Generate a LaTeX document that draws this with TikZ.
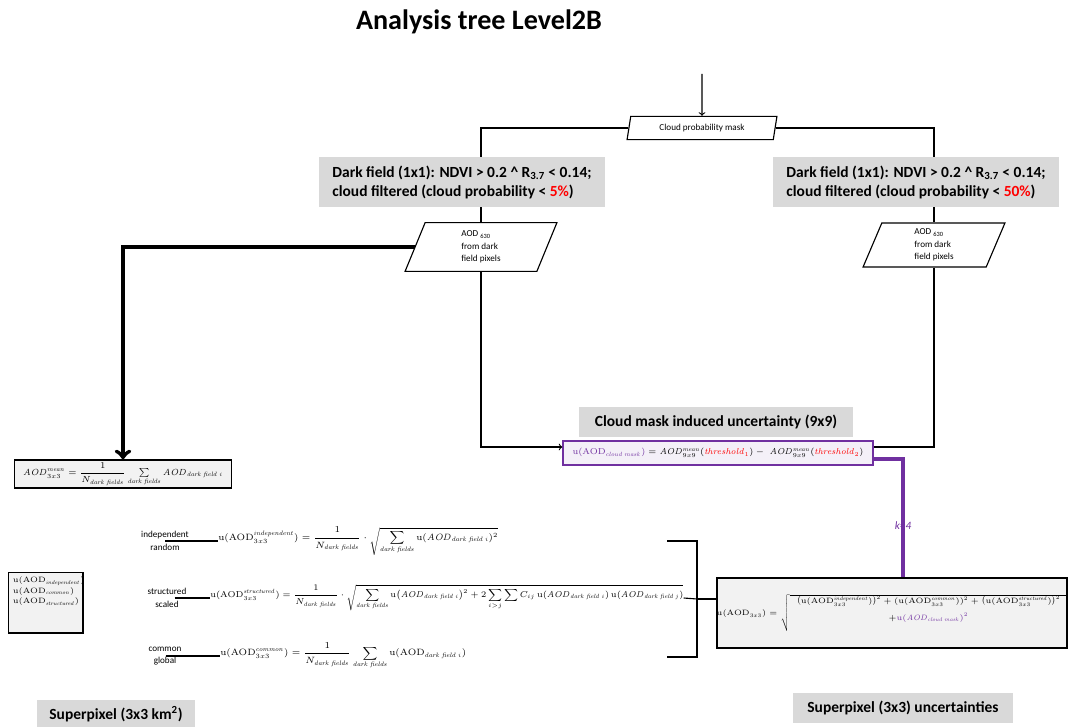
\documentclass[tikz,border=0pt]{standalone}
\usepackage{fix-cm}
\usepackage{amsmath}
\usepackage[no-math]{fontspec}
\setmainfont{Carlito}
\usetikzlibrary{shapes.geometric}

\definecolor{dfgray}{HTML}{D9D9D9}
\definecolor{boxgray}{HTML}{F2F2F2}
\definecolor{umask}{HTML}{7030A0}
\definecolor{umaskfill}{HTML}{F4F0F8}
\definecolor{thresh}{HTML}{FF0000}

\newcommand{\dfs}{\mathit{dark\ fields}}
\newcommand{\dfi}[1]{\mathit{dark\ field\ #1}}
\newcommand{\uu}{\mathrm{u}}
\newcommand{\aod}{\mathrm{AOD}}
\newcommand{\aodi}{\mathit{AOD}}

\tikzset{
  head/.style={fill=dfgray, align=left, inner sep=0pt,
    font=\fontsize{11}{13.5}\selectfont\bfseries},
  io/.style={draw, line width=0.8pt, trapezium, trapezium left angle=78,
    trapezium right angle=102, trapezium stretches=true, align=left,
    inner sep=1pt, font=\fontsize{6.5}{9}\selectfont},
  eqbox/.style={draw, fill=boxgray, line width=1pt, inner sep=0pt},
  eq/.style={inner sep=0pt, font=\fontsize{6.5}{8}\selectfont},
  tag/.style={inner sep=0pt, align=center, font=\fontsize{6.5}{8}\selectfont},
  line/.style={line width=0.8pt}
}

\begin{document}
\begin{tikzpicture}[x=0.025cm, y=-0.025cm]
\useasboundingbox (0,0) rectangle (1069,727);

\node (title) at (479,22) {\fontsize{20}{24}\selectfont\bfseries Analysis tree Level2B};

\coordinate (top) at (702,74);
\node[io, minimum width=3.75cm, minimum height=0.58cm] (cpm) at (702,128) {Cloud probability mask};

\node[head, minimum width=7.13cm, minimum height=1.25cm] (dfl) at (462,182)
  {Dark field (1x1): NDVI > 0.2 \textasciicircum{} R\textsubscript{3.7} < 0.14;\\
   cloud filtered (cloud probability < \textcolor{thresh}{5\%})};
\node[head, minimum width=7.15cm, minimum height=1.25cm] (dfr) at (916,182)
  {Dark field (1x1): NDVI > 0.2 \textasciicircum{} R\textsubscript{3.7} < 0.14;\\
   cloud filtered (cloud probability < \textcolor{thresh}{50\%})};

\node[io, minimum width=3.8cm, minimum height=1.22cm] (aodl) at (481,247)
  {AOD \textsubscript{630}\\from dark\\field pixels};
\node[io, minimum width=3.55cm, minimum height=1.1cm] (aodr) at (934,245)
  {AOD \textsubscript{630}\\from dark\\field pixels};

\node[head, minimum width=6.83cm, minimum height=0.75cm] (cmi) at (716,422)
  {Cloud mask induced uncertainty (9x9)};
\node[draw=umask, fill=umaskfill, line width=0.9pt, inner sep=0pt,
  minimum width=7.75cm, minimum height=0.6cm, font=\fontsize{6.1}{8}\selectfont] (pmask) at (718,453)
  {$\textcolor{umask}{\uu(\aod_{\mathit{cloud\ mask}})} = \aodi^{\mathit{mean}}_{9x9}(\textcolor{thresh}{\mathit{threshold}_1}) - \; \aodi^{\mathit{mean}}_{9x9}(\textcolor{thresh}{\mathit{threshold}_2})$};

\node[eqbox, minimum width=5.43cm, minimum height=0.7cm, font=\fontsize{6.3}{8}\selectfont] (aodmean) at (123,474)
  {$\aodi^{\mathit{mean}}_{3x3} = \dfrac{1}{N_{\dfs}}\sum\limits_{\dfs} \aodi_{\dfi{i}}$};

\node[eqbox, line width=0.9pt, anchor=north west, inner sep=3pt, font=\fontsize{5.5}{7.5}\selectfont] (uclist) at (8,572)
  {\begin{minipage}[t][1.3cm][t]{1.65cm}
   $\uu(\aod_{\mathit{independent}})$\\ $\uu(\aod_{\mathit{common}})$\\ $\uu(\aod_{\mathit{structured}})$
   \end{minipage}};

\node[tag] (indlab) at (165,541) {independent\\[1pt]random};
\node[eq, anchor=west] (indeq) at (218,541)
  {$\displaystyle \uu(\aod^{\mathit{independent}}_{3x3}) = \frac{1}{N_{\dfs}}\cdot\sqrt{\sum_{\dfs}\uu(\aodi_{\dfi{i}})^2}$};

\node[tag] (strlab) at (167,598) {structured\\[1pt]scaled};
\node[eq, anchor=west, font=\fontsize{6.1}{8}\selectfont] (streq) at (210,598)
  {$\displaystyle \uu(\aod^{\mathit{structured}}_{3x3}) = \frac{1}{N_{\dfs}}\cdot\sqrt{\sum_{\dfs}\uu\bigl(\aodi_{\dfi{i}}\bigr)^2 + 2\sum_{i>j}\sum C_{ij}\,\uu(\aodi_{\dfi{i}})\,\uu(\aodi_{\dfi{j}})}$};

\node[tag] (comlab) at (165,656) {common\\[1pt]global};
\node[eq, anchor=west] (comeq) at (220,656)
  {$\displaystyle \uu(\aod^{\mathit{common}}_{3x3}) = \frac{1}{N_{\dfs}}\sum_{\dfs}\uu(\aod_{\dfi{i}})$};

\coordinate (brt) at (667,541);
\coordinate (brb) at (667,657);
\coordinate (brm) at (697,599);

\node[eqbox, line width=1.2pt, minimum width=8.75cm, minimum height=1.75cm, font=\fontsize{5.5}{7}\selectfont] (unc) at (892,613)
  {$\uu(\aod_{3x3}) = \sqrt{\begin{array}{c}
   \bigl(\uu(\aod^{\mathit{independent}}_{3x3})\bigr)^2 + (\uu(\aod^{\mathit{common}}_{3x3}))^2 + \bigl(\uu(\aod^{\mathit{structured}}_{3x3})\bigr)^2\\[5pt]
   + \textcolor{umask}{\uu(\aodi_{\mathit{cloud\ mask}})^2}\\[6pt]\end{array}}$};

\node[head, minimum width=3.93cm, minimum height=0.7cm] (sp1) at (116,714) {Superpixel (3x3 km\textsuperscript{2})};
\node[head, minimum width=5.5cm, minimum height=0.75cm] (sp2) at (903,708) {Superpixel (3x3) uncertainties};

\draw[line, ->] (top) to (cpm.north);
\draw[line] (cpm.west) -| (dfl.north -| aodl.north);
\draw[line] (cpm.east) -| (dfr.north -| aodr.north);
\draw[line] (dfl.south -| aodl.north) to (aodl.north);
\draw[line] (dfr.south -| aodr.north) to (aodr.north);
\draw[line width=3pt, ->] (aodl.west) -| (aodmean.north);
\draw[line, ->] (aodl.south) |- ([yshift=1.5mm]pmask.west);
\draw[line] (aodr.south) |- ([yshift=1.5mm]pmask.east);
\draw[umask, line width=2.5pt] ([yshift=-1.5mm]pmask.east) -| ([xshift=2.75mm]unc.north)
  node[pos=0.78, font=\fontsize{8}{9}\selectfont\itshape] {k=4};

\draw[line] ([xshift=-6mm]indlab.east) to (indeq.west);
\draw[line] ([xshift=-3mm]strlab.east) to (streq.west);
\draw[line] ([xshift=-4mm]comlab.east) to (comeq.west);

\draw[line] (brt) -| (brm) |- (brb);
\draw[line] (streq.east) to (brm);
\draw[line] (brm) to (brm -| unc.west);

\end{tikzpicture}
\end{document}
